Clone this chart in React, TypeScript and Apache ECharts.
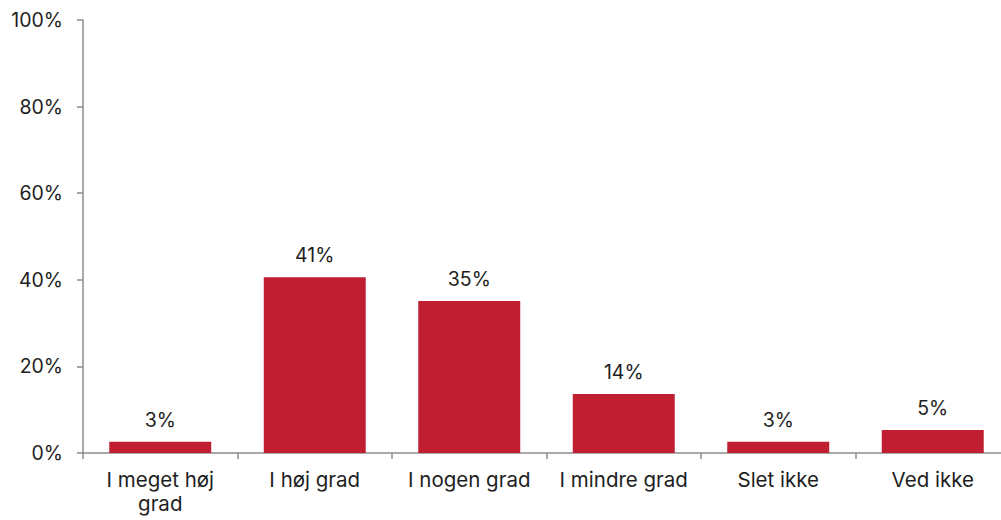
import React, { useEffect, useRef } from "react";
import * as echarts from "echarts";

const categories = ["I meget høj\ngrad", "I høj grad", "I nogen grad", "I mindre grad", "Slet ikke", "Ved ikke"];
const values = [2.6, 40.6, 35.1, 13.6, 2.6, 5.3];
const yTicks = [0, 20, 40, 60, 80, 100];

export default function App() {
  const ref = useRef<HTMLDivElement>(null);
  useEffect(() => {
    if (!ref.current) return;
    const chart = echarts.init(ref.current, undefined, { renderer: "svg" });
    const font = "Inter, 'Noto Sans', sans-serif";
    chart.setOption({
      animation: false,
      grid: { left: 83, top: 20, width: 927, height: 433, containLabel: false },
      xAxis: {
        type: "category",
        data: categories,
        axisLine: { lineStyle: { color: "#8c8c8c", width: 1.5 } },
        axisTick: { show: true, length: 6, lineStyle: { color: "#8c8c8c", width: 1.5 } },
        axisLabel: { color: "#1e1e1e", fontSize: 20.5, fontFamily: font, margin: 14, lineHeight: 24, interval: 0 },
      },
      yAxis: {
        type: "value",
        min: yTicks[0],
        max: yTicks[yTicks.length - 1],
        interval: 20,
        splitLine: { show: false },
        axisLine: { show: true, lineStyle: { color: "#8c8c8c", width: 1.5 } },
        axisTick: { show: true, length: 6, lineStyle: { color: "#8c8c8c", width: 1.5 } },
        axisLabel: { color: "#1e1e1e", fontSize: 19.5, fontFamily: font, margin: 20, formatter: (v: number) => v + "%" },
      },
      series: [
        {
          type: "bar",
          data: values,
          barCategoryGap: "34%",
          itemStyle: { color: "#c01f32" },
          label: {
            show: true,
            position: "top",
            distance: 12,
            color: "#1e1e1e",
            fontSize: 19.5,
            fontFamily: font,
            formatter: (p: any) => Math.round(p.value) + "%",
          },
        },
      ],
    });
    return () => chart.dispose();
  }, []);
  return (
    <div style={{ position: "absolute", left: 0, top: 0, width: 1001, height: 520, overflow: "hidden" }}>
      <div ref={ref} style={{ width: 1012, height: 520 }} />
    </div>
  );
}
